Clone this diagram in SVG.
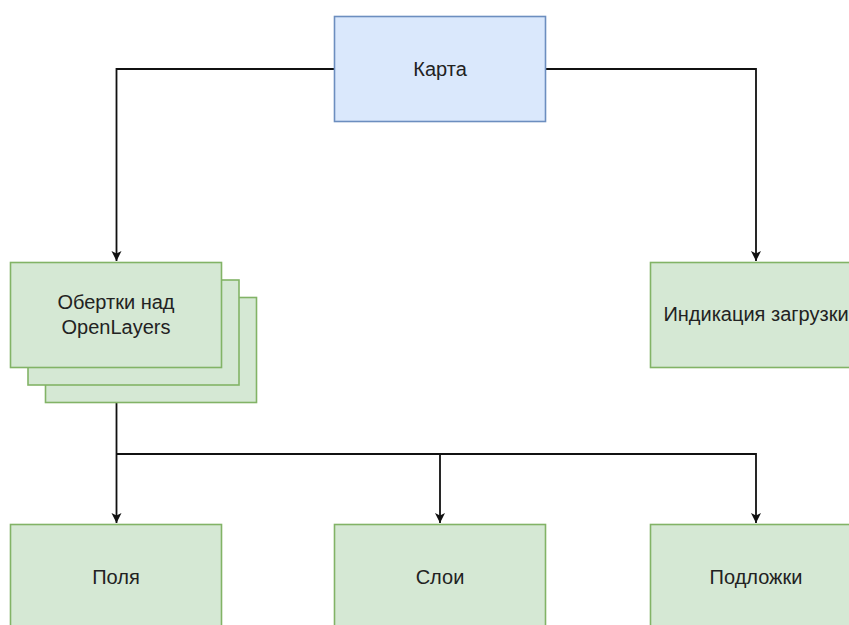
<svg xmlns="http://www.w3.org/2000/svg" width="849" height="625" viewBox="0 0 849 625">
<style>
.blue{fill:#dae8fc;stroke:#6c8ebf;stroke-width:1.6}
.green{fill:#d5e8d4;stroke:#82b366;stroke-width:1.6}
.lbl{font-family:"Liberation Sans",Arial,sans-serif;font-size:20px;fill:#222;text-anchor:middle;dominant-baseline:central}
.edge{fill:none;stroke:#111;stroke-width:1.8}
</style>
<defs>
<marker id="arr" markerUnits="userSpaceOnUse" markerWidth="12" markerHeight="12" viewBox="0 0 12 12" refX="11" refY="6" orient="auto">
<path d="M1,1 L11,6 L1,11 L3.5,6 Z" fill="#111"/>
</marker>
</defs>
<rect width="849" height="625" fill="#fff"/>
<g id="connectors">
<path class="edge" d="M334.5,69 H116.5 V261" marker-end="url(#arr)"/>
<path class="edge" d="M545.5,69 H756 V261" marker-end="url(#arr)"/>
<path class="edge" d="M116.5,402 V523" marker-end="url(#arr)"/>
<path class="edge" d="M116.5,454 H440 V523" marker-end="url(#arr)"/>
<path class="edge" d="M440,454 H756 V523" marker-end="url(#arr)"/>
</g>
<g id="karta">
<rect class="blue" x="334.5" y="16.5" width="211" height="105"/>
<text class="lbl" x="440" y="69">Карта</text>
</g>
<g id="obertki">
<rect class="green" x="45.5" y="297.5" width="211" height="105"/>
<rect class="green" x="28" y="280" width="211" height="105"/>
<rect class="green" x="10.5" y="262.5" width="211" height="105"/>
<text class="lbl" x="116" y="302">Обертки над</text>
<text class="lbl" x="116" y="327">OpenLayers</text>
</g>
<g id="indikacia">
<rect class="green" x="650.5" y="262.5" width="211" height="105"/>
<text class="lbl" x="756" y="314">Индикация загрузки</text>
</g>
<g id="polya">
<rect class="green" x="10.5" y="524.5" width="211" height="105"/>
<text class="lbl" x="116" y="577">Поля</text>
</g>
<g id="sloi">
<rect class="green" x="334.5" y="524.5" width="211" height="105"/>
<text class="lbl" x="440" y="577">Слои</text>
</g>
<g id="podlozhki">
<rect class="green" x="650.5" y="524.5" width="211" height="105"/>
<text class="lbl" x="756" y="577">Подложки</text>
</g>
</svg>
